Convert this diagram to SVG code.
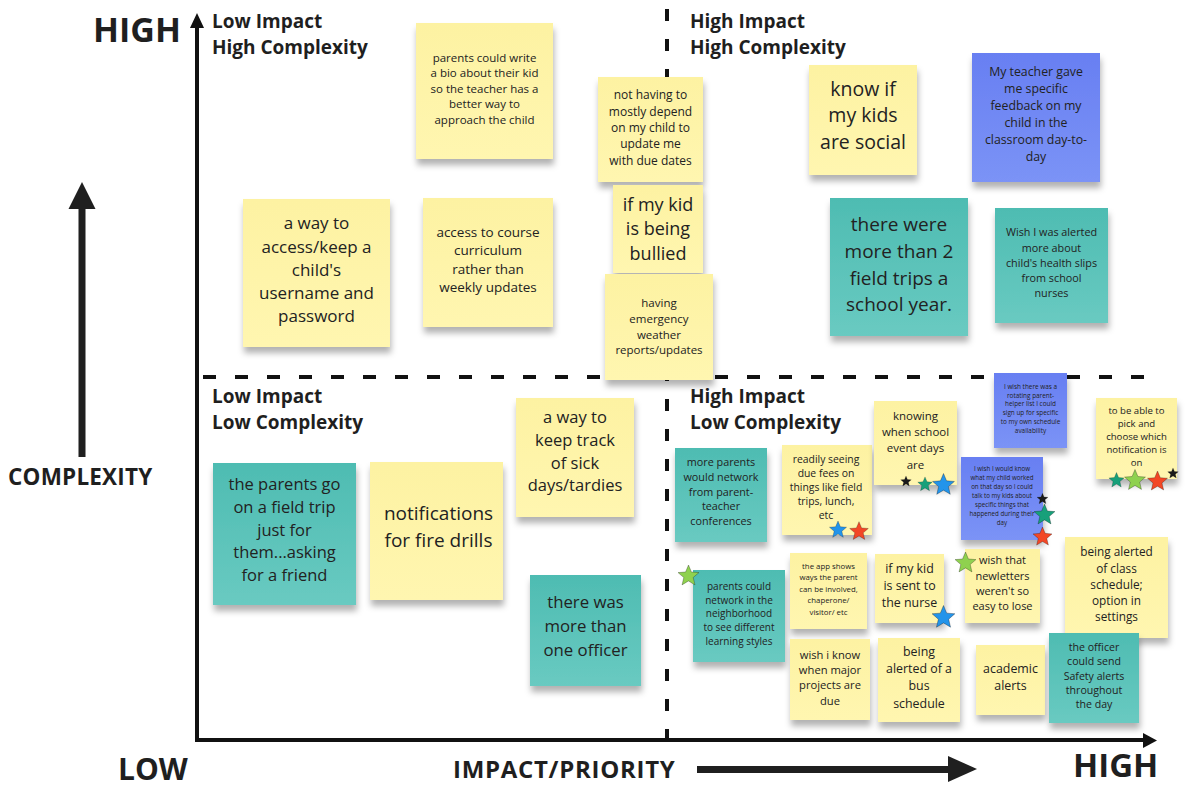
<svg xmlns="http://www.w3.org/2000/svg" xmlns:xlink="http://www.w3.org/1999/xlink" width="1186" height="793" viewBox="0 0 1186 793">
<style>
text{font-family:"Open Sans","Liberation Sans",sans-serif;fill:#222;}
.n text{text-anchor:middle;}
.hd{font-weight:700;font-size:19px;fill:#1f1f1f;}
.ax{font-weight:700;fill:#1f1f1f;}
.y{fill:url(#gy);filter:url(#sh);}
.t{fill:url(#gt);filter:url(#sh);}
.b{fill:url(#gb);filter:url(#sh);}
.dash{stroke:#111;stroke-width:4;fill:none;}
.st{stroke:rgba(0,0,0,0.35);stroke-width:0.07;}
</style>
<defs>
<filter id="sh" x="-20%" y="-20%" width="140%" height="150%">
<feDropShadow dx="1" dy="6" stdDeviation="3.2" flood-color="#000" flood-opacity="0.3"/>
</filter>
<linearGradient id="gy" x1="0" y1="0" x2="0" y2="1"><stop offset="0" stop-color="#fdf2a2"/><stop offset="1" stop-color="#fff6b0"/></linearGradient>
<linearGradient id="gt" x1="0" y1="0" x2="0" y2="1"><stop offset="0" stop-color="#4ebcb2"/><stop offset="1" stop-color="#69cac1"/></linearGradient>
<linearGradient id="gb" x1="0" y1="0" x2="0" y2="1"><stop offset="0" stop-color="#687ff2"/><stop offset="1" stop-color="#7b93f6"/></linearGradient>
<path id="star" d="M0,-1 L0.265,-0.364 L0.951,-0.309 L0.428,0.139 L0.588,0.809 L0,0.45 L-0.588,0.809 L-0.428,0.139 L-0.951,-0.309 L-0.265,-0.364 Z"/>
</defs>
<rect width="1186" height="793" fill="#fff"/>

<g id="connectors">
<line class="dash" x1="203" y1="377" x2="1145" y2="377" stroke-dasharray="13 19"/>
<line class="dash" x1="667" y1="9" x2="667" y2="738" stroke-dasharray="12 18"/>
<line x1="197" y1="26" x2="197" y2="742" stroke="#111" stroke-width="4"/>
<polygon points="190,28 204,28 197,13" fill="#111"/>
<line x1="195" y1="740" x2="1145" y2="740" stroke="#111" stroke-width="4"/>
<polygon points="1143,733 1143,748 1157,740.5" fill="#111"/>
<line x1="82" y1="207" x2="82" y2="457" stroke="#1f1f1f" stroke-width="7"/>
<polygon points="68.5,209 95.5,209 82,182" fill="#1f1f1f"/>
<line x1="697" y1="769.5" x2="950" y2="769.5" stroke="#1f1f1f" stroke-width="7"/>
<polygon points="948,756 948,782 977,769" fill="#1f1f1f"/>
</g>

<g id="labels">
<text class="ax" x="93" y="42" font-size="34">HIGH</text>
<text class="ax" x="118" y="780" font-size="30">LOW</text>
<text class="ax" x="1073" y="777" font-size="33">HIGH</text>
<text class="ax" x="453" y="778" font-size="24" letter-spacing="0.7">IMPACT/PRIORITY</text>
<text class="ax" x="8" y="485" font-size="22.5" letter-spacing="0.2">COMPLEXITY</text>
<text class="hd" x="212" y="28">Low Impact</text>
<text class="hd" x="212" y="53.5">High Complexity</text>
<text class="hd" x="690" y="28">High Impact</text>
<text class="hd" x="690" y="53.5">High Complexity</text>
<text class="hd" x="212" y="403">Low Impact</text>
<text class="hd" x="212" y="429">Low Complexity</text>
<text class="hd" x="690" y="403">High Impact</text>
<text class="hd" x="690" y="429">Low Complexity</text>
</g>

<g id="n1" class="n"><rect class="y" x="416" y="23" width="137" height="136"/>
<text font-size="11.5"><tspan x="484.5" y="61.5">parents could write</tspan><tspan x="484.5" y="77.1">a bio about their kid</tspan><tspan x="484.5" y="92.8">so the teacher has a</tspan><tspan x="484.5" y="108.4">better way to</tspan><tspan x="484.5" y="124.1">approach the child</tspan></text></g>

<g id="n2" class="n"><rect class="y" x="598" y="77" width="105" height="105"/>
<text font-size="12"><tspan x="650.5" y="99.4">not having to</tspan><tspan x="650.5" y="115.7">mostly depend</tspan><tspan x="650.5" y="132">on my child to</tspan><tspan x="650.5" y="148.3">update me</tspan><tspan x="650.5" y="164.6">with due dates</tspan></text></g>

<g id="n3" class="n"><rect class="y" x="613" y="185" width="90" height="88"/>
<text font-size="18"><tspan x="658" y="210.5">if my kid</tspan><tspan x="658" y="235">is being</tspan><tspan x="658" y="259.5">bullied</tspan></text></g>

<g id="n4" class="n"><rect class="y" x="605" y="274" width="108" height="106"/>
<text font-size="11.5"><tspan x="659" y="307.4">having</tspan><tspan x="659" y="323">emergency</tspan><tspan x="659" y="338.6">weather</tspan><tspan x="659" y="354.2">reports/updates</tspan></text></g>

<g id="n5" class="n"><rect class="y" x="243" y="199" width="147" height="148"/>
<text font-size="17"><tspan x="316.5" y="229.4">a way to</tspan><tspan x="316.5" y="252.5">access/keep a</tspan><tspan x="316.5" y="275.6">child's</tspan><tspan x="316.5" y="298.7">username and</tspan><tspan x="316.5" y="321.8">password</tspan></text></g>

<g id="n6" class="n"><rect class="y" x="423" y="198" width="130" height="129"/>
<text font-size="13.5"><tspan x="488" y="236.9">access to course</tspan><tspan x="488" y="255.3">curriculum</tspan><tspan x="488" y="273.7">rather than</tspan><tspan x="488" y="292.1">weekly updates</tspan></text></g>

<g id="n7" class="n"><rect class="y" x="809" y="65" width="108" height="110"/>
<text font-size="19.5"><tspan x="863" y="95.9">know if</tspan><tspan x="863" y="122.4">my kids</tspan><tspan x="863" y="148.9">are social</tspan></text></g>

<g id="n8" class="n"><rect class="b" x="972" y="53" width="128" height="129"/>
<text font-size="12.3"><tspan x="1036" y="75.8">My teacher gave</tspan><tspan x="1036" y="92.9">me specific</tspan><tspan x="1036" y="110">feedback on my</tspan><tspan x="1036" y="127.1">child in the</tspan><tspan x="1036" y="144.2">classroom day-to-</tspan><tspan x="1036" y="161.3">day</tspan></text></g>

<g id="n9" class="n"><rect class="t" x="830" y="198" width="138" height="138"/>
<text font-size="19"><tspan x="899" y="231.3">there were</tspan><tspan x="899" y="258">more than 2</tspan><tspan x="899" y="284.6">field trips a</tspan><tspan x="899" y="311.3">school year.</tspan></text></g>

<g id="n10" class="n"><rect class="t" x="995" y="208" width="113" height="115"/>
<text font-size="10.8"><tspan x="1051.5" y="236.3">Wish I was alerted</tspan><tspan x="1051.5" y="251.5">more about</tspan><tspan x="1051.5" y="266.7">child's health slips</tspan><tspan x="1051.5" y="281.9">from school</tspan><tspan x="1051.5" y="297.1">nurses</tspan></text></g>

<g id="n11" class="n"><rect class="t" x="213" y="463" width="143" height="142"/>
<text font-size="16.5"><tspan x="284.5" y="490">the parents go</tspan><tspan x="284.5" y="512.8">on a field trip</tspan><tspan x="284.5" y="535.6">just for</tspan><tspan x="284.5" y="558.4">them...asking</tspan><tspan x="284.5" y="581.2">for a friend</tspan></text></g>

<g id="n12" class="n"><rect class="y" x="370" y="462" width="133" height="138"/>
<text font-size="19"><tspan x="438.5" y="520.3">notifications</tspan><tspan x="438.5" y="546.8">for fire drills</tspan></text></g>

<g id="n13" class="n"><rect class="y" x="516" y="398" width="118" height="119"/>
<text font-size="16.5"><tspan x="575" y="423.4">a way to</tspan><tspan x="575" y="446">keep track</tspan><tspan x="575" y="468.5">of sick</tspan><tspan x="575" y="491">days/tardies</tspan></text></g>

<g id="n14" class="n"><rect class="t" x="530" y="575" width="111" height="111"/>
<text font-size="16.8"><tspan x="585.5" y="607.5">there was</tspan><tspan x="585.5" y="631.5">more than</tspan><tspan x="585.5" y="655.5">one officer</tspan></text></g>

<g id="n15" class="n"><rect class="t" x="675" y="448" width="92" height="94"/>
<text font-size="10.8"><tspan x="721" y="466.3">more parents</tspan><tspan x="721" y="481">would network</tspan><tspan x="721" y="495.7">from parent-</tspan><tspan x="721" y="510.4">teacher</tspan><tspan x="721" y="525.1">conferences</tspan></text></g>

<g id="n16" class="n"><rect class="y" x="782" y="445" width="90" height="90"/>
<text font-size="10.4"><tspan x="826" y="463">readily seeing</tspan><tspan x="826" y="477.1">due fees on</tspan><tspan x="826" y="491.2">things like field</tspan><tspan x="826" y="505.3">trips, lunch,</tspan><tspan x="826" y="519.4">etc</tspan></text>
<use href="#star" class="st" fill="#2394ea" transform="translate(838,530) scale(9)"/>
<use href="#star" class="st" fill="#f24726" transform="translate(859,531.5) scale(9.8)"/></g>

<g id="n17" class="n"><rect class="y" x="874" y="401" width="83" height="84"/>
<text font-size="11.5"><tspan x="915.5" y="419.5">knowing</tspan><tspan x="915.5" y="436">when school</tspan><tspan x="915.5" y="452.3">event days</tspan><tspan x="915.5" y="468.6">are</tspan></text>
<use href="#star" class="st" fill="#1a1a1a" transform="translate(906,481.5) scale(5.6)"/>
<use href="#star" class="st" fill="#17a07a" transform="translate(925,484.5) scale(7.6)"/>
<use href="#star" class="st" fill="#2394ea" transform="translate(943.5,485) scale(11.5)"/></g>

<g id="n18" class="n"><rect class="b" x="994" y="373" width="73" height="75"/>
<text font-size="6.4"><tspan x="1030.5" y="388.8">I wish there was a</tspan><tspan x="1030.5" y="397.6">rotating parent-</tspan><tspan x="1030.5" y="406.4">helper list I could</tspan><tspan x="1030.5" y="415.2">sign up for specific</tspan><tspan x="1030.5" y="424">to my own schedule</tspan><tspan x="1030.5" y="432.8">availability</tspan></text></g>

<g id="n19" class="n"><rect class="y" x="1096" y="398" width="81" height="81"/>
<text font-size="9.6"><tspan x="1136.5" y="414">to be able to</tspan><tspan x="1136.5" y="427">pick and</tspan><tspan x="1136.5" y="440">choose which</tspan><tspan x="1136.5" y="453">notification is</tspan><tspan x="1136.5" y="466">on</tspan></text>
<use href="#star" class="st" fill="#17a07a" transform="translate(1116.5,480.5) scale(8)"/>
<use href="#star" class="st" fill="#8fd14f" transform="translate(1135,480.5) scale(11)"/>
<use href="#star" class="st" fill="#f24726" transform="translate(1157.5,481.5) scale(10.5)"/>
<use href="#star" class="st" fill="#1a1a1a" transform="translate(1173,473.5) scale(5.6)"/></g>

<g id="n20" class="n"><rect class="b" x="961" y="457" width="82" height="83"/>
<text font-size="6.2"><tspan x="1002" y="471.3">I wish I would know</tspan><tspan x="1002" y="480.3">what my child worked</tspan><tspan x="1002" y="489.3">on that day so I could</tspan><tspan x="1002" y="498.3">talk to my kids about</tspan><tspan x="1002" y="507.3">specific things that</tspan><tspan x="1002" y="516.3">happened during their</tspan><tspan x="1002" y="525.3">day</tspan></text>
<use href="#star" class="st" fill="#1a1a1a" transform="translate(1042.5,499) scale(5.8)"/>
<use href="#star" class="st" fill="#17a07a" transform="translate(1044.5,515) scale(11)"/>
<use href="#star" class="st" fill="#f24726" transform="translate(1042.5,537) scale(10)"/></g>

<g id="n21" class="n"><rect class="t" x="693" y="570" width="92" height="92"/>
<text font-size="10"><tspan x="739" y="590">parents could</tspan><tspan x="739" y="603.7">network in the</tspan><tspan x="739" y="617.4">neighborhood</tspan><tspan x="739" y="631.1">to see different</tspan><tspan x="739" y="644.8">learning styles</tspan></text>
<use href="#star" class="st" fill="#8fd14f" transform="translate(688.5,576) scale(11)"/></g>

<g id="n22" class="n"><rect class="y" x="790" y="553" width="77" height="76"/>
<text font-size="7.8"><tspan x="828.5" y="568.6">the app shows</tspan><tspan x="828.5" y="580.2">ways the parent</tspan><tspan x="828.5" y="591.8">can be involved,</tspan><tspan x="828.5" y="603.4">chaperone/</tspan><tspan x="828.5" y="615">visitor/ etc</tspan></text></g>

<g id="n23" class="n"><rect class="y" x="875" y="554" width="69" height="69"/>
<text font-size="12.4"><tspan x="909.5" y="573.3">if my kid</tspan><tspan x="909.5" y="590.3">is sent to</tspan><tspan x="909.5" y="607.3">the nurse</tspan></text>
<use href="#star" class="st" fill="#2394ea" transform="translate(943.5,617.5) scale(12)"/></g>

<g id="n24" class="n"><rect class="y" x="790" y="639" width="80" height="81"/>
<text font-size="11.2"><tspan x="830" y="658.6">wish i know</tspan><tspan x="830" y="673.9">when major</tspan><tspan x="830" y="689.2">projects are</tspan><tspan x="830" y="704.5">due</tspan></text></g>

<g id="n25" class="n"><rect class="y" x="878" y="638" width="82" height="84"/>
<text font-size="12.4"><tspan x="919" y="655.7">being</tspan><tspan x="919" y="673">alerted of a</tspan><tspan x="919" y="690.3">bus</tspan><tspan x="919" y="707.6">schedule</tspan></text></g>

<g id="n26" class="n"><rect class="y" x="965" y="549" width="75" height="74"/>
<text font-size="11"><tspan x="1002.5" y="564.3">wish that</tspan><tspan x="1002.5" y="579.6">newletters</tspan><tspan x="1002.5" y="594.9">weren't so</tspan><tspan x="1002.5" y="610.2">easy to lose</tspan></text>
<use href="#star" class="st" fill="#8fd14f" transform="translate(965.5,563) scale(11)"/></g>

<g id="n27" class="n"><rect class="y" x="1065" y="537" width="103" height="101"/>
<text font-size="11.8"><tspan x="1116.5" y="556.4">being alerted</tspan><tspan x="1116.5" y="572.6">of class</tspan><tspan x="1116.5" y="588.8">schedule;</tspan><tspan x="1116.5" y="605">option in</tspan><tspan x="1116.5" y="621.2">settings</tspan></text></g>

<g id="n28" class="n"><rect class="y" x="976" y="645" width="69" height="70"/>
<text font-size="12.4"><tspan x="1010.5" y="672.5">academic</tspan><tspan x="1010.5" y="689.5">alerts</tspan></text></g>

<g id="n29" class="n"><rect class="t" x="1049" y="633" width="90" height="90"/>
<text font-size="10.6"><tspan x="1094" y="650.8">the officer</tspan><tspan x="1094" y="665.2">could send</tspan><tspan x="1094" y="679.6">Safety alerts</tspan><tspan x="1094" y="694">throughout</tspan><tspan x="1094" y="708.4">the day</tspan></text></g>
</svg>
